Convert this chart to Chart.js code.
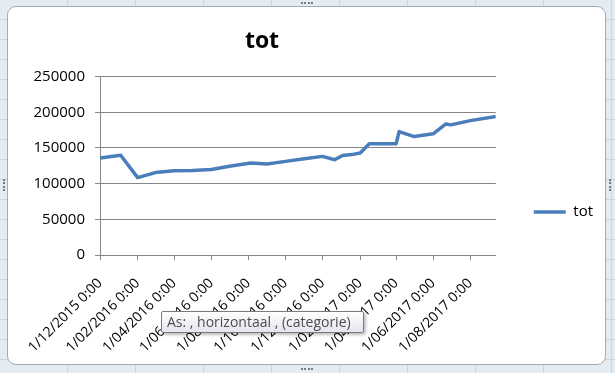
<!DOCTYPE html>
<html>
<head>
<meta charset="utf-8">
<script src="https://cdn.jsdelivr.net/npm/chart.js@4.4.1/dist/chart.umd.min.js"></script>
<style>
  html, body { margin: 0; padding: 0; }
  body {
    width: 615px; height: 373px; position: relative; overflow: hidden;
    background-color: #e4ecf2;
    background-image:
      repeating-linear-gradient(to right, transparent 0 67px, #c9d6e0 67px 68px),
      repeating-linear-gradient(to bottom, transparent 0 19px, #c9d6e0 19px 20px);
  }
  #frame {
    position: absolute; left: 7px; top: 6px; width: 597px; height: 357px;
    border: 1px solid #9fadb9; border-radius: 9px; background: #fff;
  }
  #chart { position: absolute; left: 0; top: 0; }
  .grip { position: absolute; border: 0 dotted #6f7f8c; }
  #tip {
    position: absolute; left: 161px; top: 311px; width: 203px; height: 22px;
    border: 1px solid #7a7a7a; border-radius: 2px;
    background: linear-gradient(#ffffff, #e4e5ee);
    box-shadow: 2px 2px 3px rgba(0,0,0,0.25);
    font: 14px "Open Sans", sans-serif; color: #4c4c4c;
    line-height: 20px; padding-left: 5px; box-sizing: border-box;
    white-space: nowrap;
  }
</style>
</head>
<body>
<div id="frame"></div>
<div class="grip" style="left:301px;top:2px;width:12px;border-top-width:2px"></div>
<div class="grip" style="left:301px;top:368px;width:12px;border-top-width:2px"></div>
<div class="grip" style="left:3px;top:179px;height:12px;border-left-width:2px"></div>
<div class="grip" style="left:609px;top:179px;height:12px;border-left-width:2px"></div>
<canvas id="chart" width="615" height="373"></canvas>
<div id="tip">As: , horizontaal , (categorie)</div>
<script>
// d/mm/yyyy
let pointDates = ['1/12/2015', '4/01/2016', '1/02/2016', '1/03/2016', '1/04/2016', '1/05/2016',
    '1/06/2016', '1/07/2016', '5/08/2016', '1/09/2016', '1/10/2016', '1/11/2016', '1/12/2016',
    '21/12/2016', '3/01/2017', '18/01/2017', '1/02/2017', '16/02/2017', '1/04/2017', '6/04/2017',
    '1/05/2017', '1/06/2017', '22/06/2017', '30/06/2017', '1/08/2017', '12/09/2017'];
let totValues = [135800, 139800, 108500, 115500, 118000, 118300,
    119800, 124300, 128800, 127600, 131200, 135000, 138200,
    133400, 139500, 140700, 143000, 155800, 155800, 173000,
    166000, 169800, 183700, 182300, 188300, 194200];
let tickDates = ['1/12/2015', '1/02/2016', '1/04/2016', '1/06/2016', '1/08/2016', '1/10/2016',
    '1/12/2016', '1/02/2017', '1/04/2017', '1/06/2017', '1/08/2017'];
let yMin = 0, yMax = 250000, yStep = 50000;

function toDay(s) {
    let [d, m, y] = s.split('/').map(Number);
    return Math.round(Date.UTC(y, m - 1, d) / 86400000);
}
let day0 = toDay(pointDates[0]);
let points = pointDates.map((s, i) => ({ x: toDay(s) - day0, y: totValues[i] }));
let tickDays = tickDates.map(s => toDay(s) - day0);
let tickText = {};
tickDates.forEach((s, i) => { tickText[tickDays[i]] = s + ' 0:00'; });

const gray = '#868686';
const lineColor = '#4a7ebb';
const font = 'Open Sans';

// excel centres the title over plot area + left margin, not over the canvas
const titleShift = {
    id: 'titleShift',
    afterLayout(chart) {
        chart.titleBlock.left = 0;
        chart.titleBlock.right = 524;
    },
};

let ctx = document.getElementById('chart');
let chart = new Chart(ctx, {
    type: 'line',
    data: {
        datasets: [
            {
                label: 'tot',
                data: points,
                borderColor: lineColor,
                backgroundColor: lineColor,
                borderWidth: 3.5,
                borderJoinStyle: 'round',
                pointRadius: 0,
                tension: 0,
            },
        ],
    },
    options: {
        responsive: false,
        animation: false,
        layout: { padding: { left: 0, right: 12, top: 0, bottom: 0 } },
        scales: {
            x: {
                type: 'linear',
                min: 0,
                max: points[points.length - 1].x,
                afterBuildTicks: axis => { axis.ticks = tickDays.map(v => ({ value: v })); },
                afterFit: s => { s.height = 118; },
                ticks: {
                    autoSkip: false,
                    minRotation: 45,
                    maxRotation: 45,
                    padding: 15,
                    color: '#000',
                    font: { family: font, size: 14 },
                    callback: v => tickText[v],
                },
                grid: { drawOnChartArea: false, drawTicks: true, tickLength: 5, color: gray },
                border: { color: gray, width: 1 },
            },
            y: {
                min: yMin,
                max: yMax,
                afterFit: s => { s.width = 100; },
                ticks: {
                    stepSize: yStep,
                    padding: 10,
                    color: '#000',
                    font: { family: font, size: 15 },
                    callback: v => String(v),
                },
                grid: { color: gray, tickLength: 5 },
                border: { color: gray, width: 1 },
            },
        },
        plugins: {
            title: {
                display: true,
                text: 'tot',
                color: '#000',
                font: { family: font, size: 23, weight: 'bold' },
                padding: { top: 28, bottom: 21 },
            },
            legend: {
                display: true,
                position: 'right',
                fullSize: false,
                align: 'start',
                title: { display: true, text: '', font: { size: 10, lineHeight: 1 }, padding: { top: 80, bottom: 0 } },
                labels: {
                    usePointStyle: true,
                    pointStyle: 'line',
                    pointStyleWidth: 32,
                    padding: 38,
                    color: '#000',
                    font: { family: font, size: 15 },
                },
            },
            tooltip: { enabled: false },
        },
    },
    plugins: [titleShift],
});
</script>
</body>
</html>
